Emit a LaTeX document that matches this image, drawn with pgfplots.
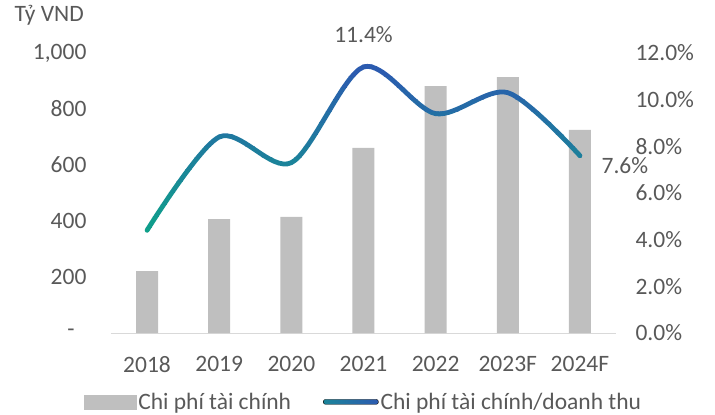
\documentclass[border=0pt]{standalone}
\usepackage{fontspec}
\setmainfont{Carlito}
\usepackage{pgfplots}
\pgfplotsset{compat=1.18}
\usepackage{pgfplotstable}
\definecolor{barcol}{HTML}{BFBFBF}
\definecolor{txt}{HTML}{595959}
\definecolor{axl}{HTML}{D9D9D9}
\definecolor{lteal}{HTML}{0FA08A}
\definecolor{lblue}{HTML}{2C5AB0}
\foreach \i/\p in {0/0,1/5,2/12,3/19,4/26,5/34,6/41,7/48,8/55,9/62,10/69,11/76,12/84,13/91,14/98,15/100}{\xglobal\colorlet{band\i}{lblue!\p!lteal}}

\pgfplotstableread{
x y
0 221
1 407
2 415
3 661
4 882
5 914
6 725
}\bardata

\pgfplotstableread{
x y
0 4.4
1 8.4
2 7.3
3 11.4
4 9.4
5 10.3
6 7.6
}\linedata

\begin{document}
\begin{tikzpicture}[font=\fontsize{23.5}{28}\selectfont]
\begin{axis}[name=ax, scale only axis, width=505pt, height=280pt,
  xmin=-0.5, xmax=6.5, ymin=0, ymax=1000,
  axis x line*=bottom, axis y line*=left,
  y axis line style={draw=none},
  x axis line style={axl, line width=1pt},
  major tick length=0pt,
  xtick={0,...,6},
  xticklabels={2018,2019,2020,2021,2022,2023F,2024F},
  ytick={0,200,400,600,800,1000},
  yticklabels={{-\rule{12pt}{0pt}},200,400,600,800,{1,000}},
  tick label style={text=txt},
  yticklabel style={xshift=-21pt},
  xticklabel style={yshift=-20pt},
  clip=false,
]
\addplot[ybar, bar width=22pt, fill=barcol, draw=none] table[x=x,y=y] {\bardata};
\node[anchor=east, text=txt, inner sep=0pt] at (rel axis cs:0,1) [xshift=-27pt, yshift=38pt] {Tỷ VND};
\end{axis}
\begin{axis}[at={(ax.south west)}, anchor=south west, scale only axis, width=505pt, height=280pt,
  xmin=-0.5, xmax=6.5, ymin=0, ymax=12,
  axis x line=none, axis y line*=right,
  y axis line style={draw=none},
  major tick length=0pt,
  ytick={0,2,4,6,8,10,12},
  /pgf/number format/assume math mode=true,
  yticklabel={\pgfmathprintnumber[fixed,fixed zerofill,precision=1,assume math mode=true]{\tick}\%},
  tick label style={text=txt},
  yticklabel style={xshift=16pt},
  clip=false,
  legend columns=2,
  legend style={at={(0.5,-0.246)}, anchor=center, draw=none, fill=none, text=txt,
    /tikz/every even column/.append style={column sep=30pt}},
]
\addlegendimage{legend image code/.code={\fill[barcol] (0pt,-7pt) rectangle (52pt,7pt);}}
\addlegendentry{Chi phí tài chính}
\addlegendimage{legend image code/.code={\shade[left color=lteal!60!lblue, right color=lblue, rounded corners=2pt] (0pt,-2.4pt) rectangle (55pt,2.4pt);}}
\addlegendentry{Chi phí tài chính/doanh thu}
\pgfplotsinvokeforeach{0,...,15}{
  \begin{scope}
    \clip (axis cs:-0.55,{#1==0 ? 0 : 4+0.5*#1}) rectangle (axis cs:6.55,{#1==15 ? 12.5 : 4.5+0.5*#1});
    \addplot[smooth, color=band#1, line width=4.8pt, line cap=round, forget plot] table[x=x,y=y] {\linedata};
  \end{scope}
}
\node[text=txt] at (axis cs:3,11.4) [yshift=32pt] {11.4\%};
\node[text=txt] at (axis cs:6,7.6) [xshift=45pt, yshift=-10pt] {7.6\%};
\end{axis}
\path (ax.south west) ++(-111pt,-82pt) rectangle ++(715pt,415pt);
\end{tikzpicture}
\end{document}
